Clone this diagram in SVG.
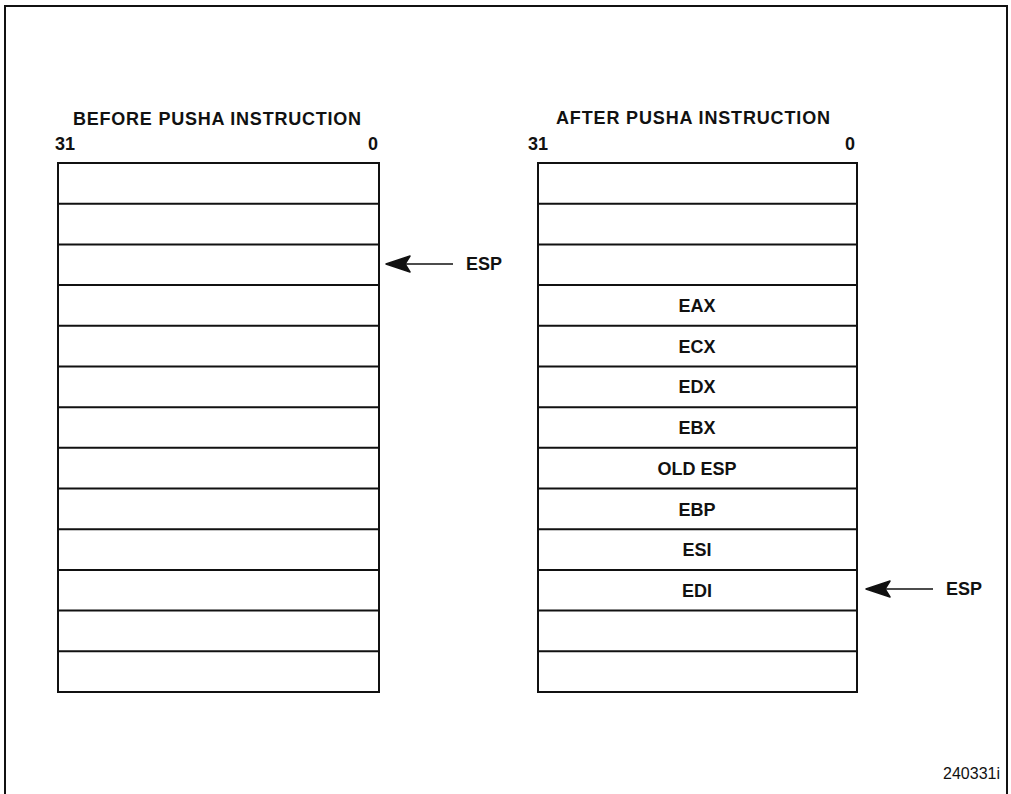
<svg xmlns="http://www.w3.org/2000/svg" width="1011" height="794" viewBox="0 0 1011 794">
<style>
.t{font-family:"Liberation Sans",Arial,sans-serif;font-weight:bold;font-size:18px;fill:#111}
.c{text-anchor:middle}
.box{fill:#fff;stroke:#111;stroke-width:2}
.ln{stroke:#111;stroke-width:2}
.ar{stroke:#111;stroke-width:1.5;fill:none}
.hd{fill:#111;stroke:#111;stroke-width:1.5;stroke-linejoin:round}
.id{font-family:"Liberation Sans",Arial,sans-serif;font-size:16px;fill:#111;text-anchor:end}
</style>
<rect width="1011" height="794" fill="#fff"/>
<path d="M5,794 V6 H1007 V794" fill="none" stroke="#111" stroke-width="2"/>

<g id="before">
<text class="t" x="73" y="125" textLength="288" lengthAdjust="spacing">BEFORE  PUSHA  INSTRUCTION</text>
<text class="t" x="55" y="150">31</text>
<text class="t" x="368" y="150">0</text>
<rect class="box" x="58" y="163" width="321" height="529"/>
<g class="ln">
<line x1="58" y1="203.7" x2="379" y2="203.7"/>
<line x1="58" y1="244.4" x2="379" y2="244.4"/>
<line x1="58" y1="285.1" x2="379" y2="285.1"/>
<line x1="58" y1="325.8" x2="379" y2="325.8"/>
<line x1="58" y1="366.5" x2="379" y2="366.5"/>
<line x1="58" y1="407.2" x2="379" y2="407.2"/>
<line x1="58" y1="447.8" x2="379" y2="447.8"/>
<line x1="58" y1="488.5" x2="379" y2="488.5"/>
<line x1="58" y1="529.2" x2="379" y2="529.2"/>
<line x1="58" y1="569.9" x2="379" y2="569.9"/>
<line x1="58" y1="610.6" x2="379" y2="610.6"/>
<line x1="58" y1="651.3" x2="379" y2="651.3"/>
</g>
</g>

<g id="after">
<text class="t" x="556" y="124" textLength="274" lengthAdjust="spacing">AFTER  PUSHA  INSTRUCTION</text>
<text class="t" x="528" y="150">31</text>
<text class="t" x="845" y="150">0</text>
<rect class="box" x="538" y="163" width="319" height="529"/>
<g class="ln">
<line x1="538" y1="203.7" x2="857" y2="203.7"/>
<line x1="538" y1="244.4" x2="857" y2="244.4"/>
<line x1="538" y1="285.1" x2="857" y2="285.1"/>
<line x1="538" y1="325.8" x2="857" y2="325.8"/>
<line x1="538" y1="366.5" x2="857" y2="366.5"/>
<line x1="538" y1="407.2" x2="857" y2="407.2"/>
<line x1="538" y1="447.8" x2="857" y2="447.8"/>
<line x1="538" y1="488.5" x2="857" y2="488.5"/>
<line x1="538" y1="529.2" x2="857" y2="529.2"/>
<line x1="538" y1="569.9" x2="857" y2="569.9"/>
<line x1="538" y1="610.6" x2="857" y2="610.6"/>
<line x1="538" y1="651.3" x2="857" y2="651.3"/>
</g>
<g class="t c">
<text x="697" y="312">EAX</text>
<text x="697" y="353">ECX</text>
<text x="697" y="393">EDX</text>
<text x="697" y="434">EBX</text>
<text x="697" y="475">OLD ESP</text>
<text x="697" y="516">EBP</text>
<text x="697" y="556">ESI</text>
<text x="697" y="597">EDI</text>
</g>
</g>

<g id="connectors">
<line class="ar" x1="453" y1="264" x2="400" y2="264"/>
<path class="hd" d="M386,264 L410,256 L405,264 L410,272 Z"/>
<line class="ar" x1="933" y1="589" x2="880" y2="589"/>
<path class="hd" d="M866,589 L890,581 L885,589 L890,597 Z"/>
</g>

<g id="labels">
<text class="t" x="466" y="270">ESP</text>
<text class="t" x="946" y="595">ESP</text>
<text class="id" x="1000" y="779">240331i</text>
</g>
</svg>
